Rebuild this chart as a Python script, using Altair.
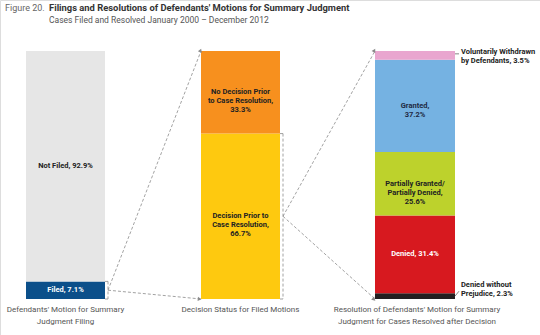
import altair as alt
import pandas as pd
import numpy as np

# ---------------- data ----------------
filing_cats = ["Filed", "Not Filed"]
filing_vals = [7.1, 92.9]
filing_labels = ["Filed, 7.1%", "Not Filed, 92.9%"]

decision_cats = ["Decision Prior to Case Resolution", "No Decision Prior to Case Resolution"]
decision_vals = [66.7, 33.3]
decision_labels = ["Decision Prior to\nCase Resolution,\n66.7%", "No Decision Prior\nto Case Resolution,\n33.3%"]

resolution_cats = ["Denied without Prejudice", "Denied", "Partially Granted/Partially Denied",
                   "Granted", "Voluntarily Withdrawn by Defendants"]
resolution_vals = [2.3, 31.4, 25.6, 37.2, 3.5]
resolution_labels = ["", "Denied, 31.4%", "Partially Granted/\nPartially Denied,\n25.6%", "Granted,\n37.2%", ""]

axis_titles = [
    "Defendants' Motion for Summary\nJudgment Filing",
    "Decision Status for Filed Motions",
    "Resolution of Defendants' Motion for Summary\nJudgment for Cases Resolved after Decision",
]

# ---------------- layout / style ----------------
W, H = 540, 335
Y_TOP, Y_BOT = 51, 299
bar_x = [(26, 105), (201, 280), (375, 455)]
FONT = "Roboto"

colors_filing = ["#0b4f8a", "#e6e6e6"]
colors_decision = ["#fec90f", "#f7901e"]
colors_resolution = ["#231f20", "#d7191f", "#bdd22c", "#75b2e2", "#e9a6cf"]
text_filing = ["white", "#222222"]
text_decision = ["#222222", "#222222"]
text_resolution = ["white", "white", "#222222", "#1f2a44", "#222222"]

rows = []
def add(cats, vals, labels, cols, tcols, xs, group):
    base = 0.0
    for c, v, l, col, tc in zip(cats, vals, labels, cols, tcols):
        rows.append(dict(group=group, cat=c, y0=base, y1=base + v, ymid=base + v / 2,
                         x0=xs[0], x1=xs[1], xm=(xs[0] + xs[1]) / 2, label=l, color=col, tcolor=tc))
        base += v

add(filing_cats, filing_vals, filing_labels, colors_filing, text_filing, bar_x[0], 0)
add(decision_cats, decision_vals, decision_labels, colors_decision, text_decision, bar_x[1], 1)
add(resolution_cats, resolution_vals, resolution_labels, colors_resolution, text_resolution, bar_x[2], 2)
df = pd.DataFrame(rows)

xs = alt.Scale(domain=[0, W], range=[0, W])
ys = alt.Scale(domain=[0, 100], range=[Y_BOT, Y_TOP])

bars = alt.Chart(df).mark_rect().encode(
    x=alt.X("x0:Q", scale=xs, axis=None),
    x2="x1:Q",
    y=alt.Y("y0:Q", scale=ys, axis=None),
    y2="y1:Q",
    color=alt.Color("color:N", scale=None),
)

labels = alt.Chart(df[df.label != ""]).mark_text(
    font=FONT, fontWeight="bold", fontSize=7.5, lineBreak="\n", baseline="middle", lineHeight=9
).encode(
    x=alt.X("xm:Q", scale=xs, axis=None),
    y=alt.Y("ymid:Q", scale=ys, axis=None),
    text="label:N",
    color=alt.Color("tcolor:N", scale=None),
)

# connectors: bracket on "Filed" and on "Decision Prior"
filed_top = filing_vals[0]
dec_top = decision_vals[0]
bx1 = bar_x[0][1] + 3
bx2 = bar_x[1][1] + 3
seg = []
seg += [(bar_x[0][1], filed_top, bx1, filed_top), (bx1, filed_top, bx1, 0), (bar_x[0][1], 0, bx1, 0)]
seg += [(bar_x[1][1], dec_top, bx2, dec_top), (bx2, dec_top, bx2, 0), (bar_x[1][1], 0, bx2, 0)]
arrows = [
    (bx1, filed_top / 2, bar_x[1][0], 100),
    (bx1, filed_top / 2, bar_x[1][0], 0),
    (bx2, dec_top / 2, bar_x[2][0], 100),
    (bx2, dec_top / 2, bar_x[2][0], 0),
]
seg += arrows
seg_df = pd.DataFrame(seg, columns=["xa", "ya", "xb", "yb"])

def ypix(v):
    return Y_BOT - (Y_BOT - Y_TOP) * v / 100

heads = []
for xa, ya, xb, yb in arrows:
    dx = xb - xa
    dy = ypix(yb) - ypix(ya)
    ang = float(np.degrees(np.arctan2(dx, -dy))) % 360
    heads.append(dict(x=xb - 2 * dx / np.hypot(dx, dy), y=yb, angle=ang))
head_df = pd.DataFrame(heads)

conn = alt.Chart(seg_df).mark_rule(color="#8a8a8a", strokeDash=[3, 2], strokeWidth=0.8).encode(
    x=alt.X("xa:Q", scale=xs, axis=None), y=alt.Y("ya:Q", scale=ys, axis=None),
    x2="xb:Q", y2="yb:Q",
)
heads_layer = alt.Chart(head_df).mark_point(shape="triangle", filled=True, color="#8a8a8a", size=18, opacity=1).encode(
    x=alt.X("x:Q", scale=xs, axis=None), y=alt.Y("y:Q", scale=ys, axis=None),
    angle=alt.Angle("angle:Q", scale=None),
)

# outside labels for small resolution segments
r = df[df.group == 2]
vw = r.iloc[4]
dw = r.iloc[0]
out_df = pd.DataFrame([
    dict(x=bar_x[2][1] + 6, y=vw.ymid + 1.2, label="Voluntarily Withdrawn\nby Defendants, 3.5%"),
    dict(x=bar_x[2][1] + 6, y=dw.ymid + 4.6, label="Denied without\nPrejudice, 2.3%"),
])
out_text = alt.Chart(out_df).mark_text(
    font=FONT, fontWeight="bold", fontSize=7.5, lineBreak="\n", align="left", baseline="middle",
    lineHeight=9, color="#222222"
).encode(
    x=alt.X("x:Q", scale=xs, axis=None), y=alt.Y("y:Q", scale=ys, axis=None), text="label:N"
)
lead_df = pd.DataFrame([
    dict(xa=bar_x[2][1], ya=vw.ymid + 0.6, xb=bar_x[2][1] + 4, yb=vw.ymid + 0.6),
    dict(xa=bar_x[2][1], ya=dw.ymid, xb=bar_x[2][1] + 4, yb=dw.ymid + 2.0),
])
leads = alt.Chart(lead_df).mark_rule(color="#666666", strokeWidth=0.8).encode(
    x=alt.X("xa:Q", scale=xs, axis=None), y=alt.Y("ya:Q", scale=ys, axis=None),
    x2="xb:Q", y2="yb:Q",
)

# bottom category titles
bt_df = pd.DataFrame([
    dict(x=(bar_x[i][0] + bar_x[i][1]) / 2 + off, label=axis_titles[i])
    for i, off in zip(range(3), [0, 0, 2])
])
bottom = alt.Chart(bt_df).mark_text(
    font=FONT, fontSize=8, lineBreak="\n", baseline="top", lineHeight=11.5, color="#555555"
).encode(
    x=alt.X("x:Q", scale=xs, axis=None), y=alt.value(306), text="label:N"
)

# headers
hdr = alt.Chart(pd.DataFrame({"t": ["Figure 20."]})).mark_text(
    font=FONT, fontSize=9, align="left", baseline="middle", color="#666666"
).encode(x=alt.value(5), y=alt.value(8), text="t:N")
title = alt.Chart(pd.DataFrame({"t": ["Filings and Resolutions of Defendants' Motions for Summary Judgment"]})).mark_text(
    font=FONT, fontSize=9.4, fontWeight="bold", align="left", baseline="middle", color="#333333"
).encode(x=alt.value(49), y=alt.value(8), text="t:N")
sub = alt.Chart(pd.DataFrame({"t": ["Cases Filed and Resolved January 2000 – December 2012"]})).mark_text(
    font=FONT, fontSize=8.5, align="left", baseline="middle", color="#555555"
).encode(x=alt.value(49), y=alt.value(20), text="t:N")

chart = alt.layer(bars, labels, conn, heads_layer, leads, out_text, bottom, hdr, title, sub).properties(
    width=W, height=H, autosize=alt.AutoSizeParams(type="none"), padding=0
).configure_view(stroke=None).configure(background="white")

chart.save("out.html", embed_options={"renderer": "svg", "actions": False})
